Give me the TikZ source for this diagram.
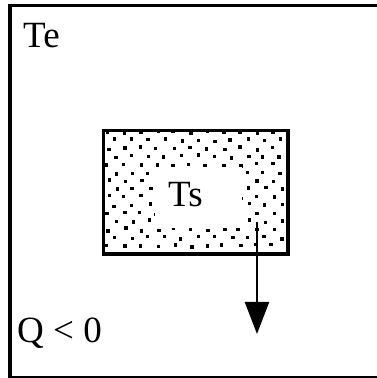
\documentclass[tikz,border=0pt]{standalone}
\usepackage{fontspec}
\setmainfont{Liberation Serif}
\usetikzlibrary{arrows.meta}
\begin{document}
\begin{tikzpicture}[x=1pt,y=1pt,
  lbl/.style={font=\fontsize{37}{37}\selectfont, inner sep=0pt, anchor=base west},
  dotmark/.style={fill=black}]
\useasboundingbox (0,0) rectangle (377,378);
% outer frame (right side cropped)
\draw[line width=3pt] (10,372) -- (377,372);
\draw[line width=4.5pt] (10,373.5) -- (10,1);
\draw[line width=1.5pt] (8,1) -- (377,1);
% stippled box
\pgfmathsetseed{7}
\foreach \r in {0,...,14}{
  \foreach \c in {0,...,11}{
    \pgfmathsetmacro{\xx}{106 + \c*16.5 + mod(\r,2)*8.2 + rand*2}
    \pgfmathsetmacro{\yy}{378-134 - \r*8.1 + rand*1.5}
    \ifdim \xx pt < 284pt
      \fill[dotmark] (\xx,\yy) rectangle +(3.4,3.4);
    \fi
  }
}
\fill[white] (155,378-167) rectangle (242,378-228);
\draw[line width=3.5pt] (103.5,378-130.5) rectangle (288,378-254);
\node[lbl] (te) at (23,330) {Te};
\node[lbl] (ts) at (168,171) {Ts};
\node[lbl] (q) at (17,35) {Q < 0};
\coordinate (a0) at (257,378-222);
\coordinate (a1) at (257,378-334);
\draw[line width=2.2pt, -{Triangle[width=24pt,length=32pt]}] (a0) -- (a1);
\end{tikzpicture}
\end{document}
